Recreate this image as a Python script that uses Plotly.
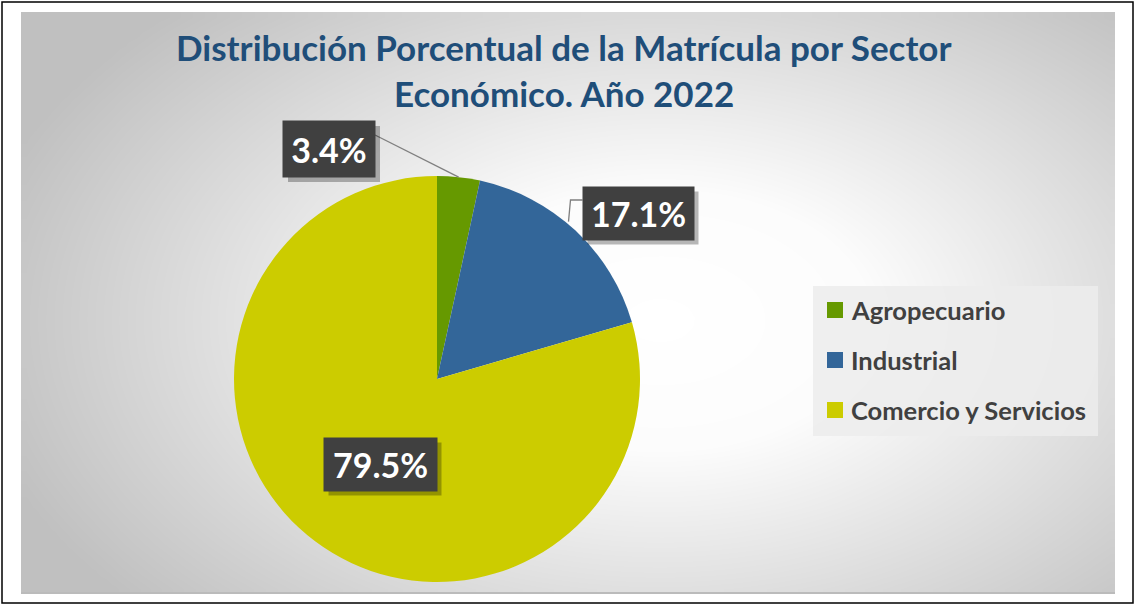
import numpy as np
import plotly.graph_objects as go

W, H = 1135, 605

# data
sectores = ["Agropecuario", "Industrial", "Comercio y Servicios"]
porcentajes = [3.4, 17.1, 79.5]
colores = ["#669900", "#336699", "#CCCC00"]
titulo = ["Distribución Porcentual de la Matrícula por Sector", "Económico. Año 2022"]

# layout helpers (pixel -> paper)
def px(x):
    return x / W

def py(y):
    return 1 - y / H

cx, cy, rad = 437, 379, 203
panel = (21, 12, 1115, 594)

# radial grey background
xe = np.linspace(panel[0], panel[2], 111)
ye = np.linspace(panel[1], panel[3], 61)
xc = (xe[:-1] + xe[1:]) / 2
yc = (ye[:-1] + ye[1:]) / 2
XX, YY = np.meshgrid(xc, yc)
dist = np.sqrt(((XX - 660) / 700) ** 2 + ((YY - 320) / 430) ** 2)
dist = np.clip(dist, 0, 1)

fig = go.Figure()
fig.add_trace(go.Heatmap(
    x=xe, y=ye, z=dist, zmin=0, zmax=1, zsmooth="best",
    colorscale=[[0, "#FFFFFF"], [0.3, "#FCFCFC"], [1, "#C0C0C0"]],
    showscale=False, hoverinfo="skip",
))

fig.add_trace(go.Pie(
    labels=sectores, values=porcentajes, sort=False, direction="clockwise",
    rotation=0, marker=dict(colors=colores, line=dict(width=0)),
    textinfo="none", hoverinfo="label+percent", showlegend=False,
    domain=dict(x=[px(cx - rad), px(cx + rad)], y=[py(cy + rad), py(cy - rad)]),
))

shapes = []
annotations = []

# thin edge at the bottom of the panel
shapes.append(dict(type="line", xref="paper", yref="paper",
                   x0=px(panel[0]), x1=px(panel[2]), y0=py(panel[3] - 1), y1=py(panel[3] - 1),
                   line=dict(color="#BBBBBB", width=2)))

# title
for i, line in enumerate(titulo):
    annotations.append(dict(
        x=px(564), y=py(47 + 46 * i), xref="paper", yref="paper",
        text="<b>%s</b>" % line, showarrow=False, xanchor="center", yanchor="middle",
        font=dict(family="Lato", size=35, color="#1F4E79"),
    ))

# data labels: box centre, box size
etiquetas = [(329, 149, 92, 56), (638, 213, 111, 53), (380, 464, 113, 53)]
total = sum(porcentajes)
acum = 0
for k, v in enumerate(porcentajes):
    mid = (acum + v / 2) / total * 2 * np.pi
    acum += v
    ex, ey = cx + rad * np.sin(mid), cy - rad * np.cos(mid)
    bx, by, bw, bh = etiquetas[k]
    # leader lines for outside labels
    if k == 0:
        shapes.append(dict(type="path", xref="paper", yref="paper",
                           path="M %f,%f L %f,%f" % (px(bx + bw / 2), py(by - 14), px(ex), py(ey)),
                           line=dict(color="#7F7F7F", width=1.3)))
    elif k == 1:
        shapes.append(dict(type="path", xref="paper", yref="paper",
                           path="M %f,%f L %f,%f L %f,%f" % (px(bx - bw / 2), py(by - 13),
                                                            px(ex - 5), py(by - 13), px(ex - 7), py(ey - 9)),
                           line=dict(color="#7F7F7F", width=1.3)))
    # shadow
    shapes.append(dict(type="rect", xref="paper", yref="paper",
                       x0=px(bx - bw / 2 + 5), x1=px(bx + bw / 2 + 5),
                       y0=py(by + bh / 2 + 5), y1=py(by - bh / 2 + 5),
                       fillcolor="rgba(0,0,0,0.28)", line=dict(width=0)))
    annotations.append(dict(
        x=px(bx), y=py(by), xref="paper", yref="paper", showarrow=False,
        text="<b>%.1f%%</b>" % v, width=bw, height=bh, bgcolor="#404040",
        borderpad=0, xanchor="center", yanchor="middle",
        font=dict(family="Lato", size=34, color="#FFFFFF"),
    ))

# legend (manual)
shapes.append(dict(type="rect", xref="paper", yref="paper",
                   x0=px(813), x1=px(1098), y0=py(436), y1=py(286),
                   fillcolor="rgba(236,236,236,0.85)", line=dict(width=0)))
for k, nombre in enumerate(sectores):
    yy = 310 + 50 * k
    shapes.append(dict(type="rect", xref="paper", yref="paper",
                       x0=px(827), x1=px(843), y0=py(yy + 8), y1=py(yy - 8),
                       fillcolor=colores[k], line=dict(width=0)))
    annotations.append(dict(
        x=px(849), y=py(yy), xref="paper", yref="paper", showarrow=False,
        text="<b>%s</b>" % nombre, xanchor="left", yanchor="middle",
        font=dict(family="Lato", size=25.5, color="#404040"),
    ))

# outer border
shapes.append(dict(type="rect", xref="paper", yref="paper",
                   x0=px(2), x1=px(1133), y0=py(603), y1=py(2),
                   line=dict(color="#000000", width=1.5)))

fig.update_layout(
    width=W, height=H, autosize=False,
    margin=dict(l=0, r=0, t=0, b=0),
    paper_bgcolor="#FFFFFF", plot_bgcolor="rgba(0,0,0,0)",
    xaxis=dict(range=[0, W], visible=False, fixedrange=True),
    yaxis=dict(range=[H, 0], visible=False, fixedrange=True),
    shapes=shapes, annotations=annotations,
)

fig.write_html("out.html", config={"displayModeBar": False},
               post_script="document.body.style.margin='0';document.body.style.overflow='hidden';")
